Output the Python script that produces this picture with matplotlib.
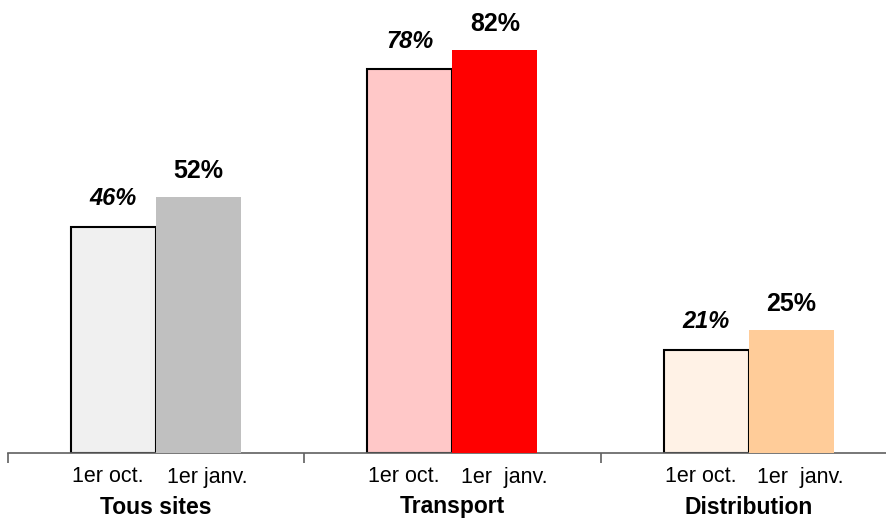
import matplotlib.pyplot as plt
import matplotlib.transforms as mtransforms

plt.rcParams['font.family'] = ['Liberation Sans', 'DejaVu Sans']

categories = ["Tous sites", "Transport", "Distribution"]
oct_values = [46, 78, 21]
jan_values = [52, 82, 25]
oct_labels = ["1er oct.", "1er oct.", "1er oct."]
jan_labels = ["1er janv.", "1er  janv.", "1er  janv."]
oct_colors = ["#F0F0F0", "#FFC8C8", "#FFF2E6"]
jan_colors = ["#C0C0C0", "#FF0000", "#FFCC99"]

fig = plt.figure(figsize=(8.87, 5.19), dpi=100)
ax = fig.add_axes([7.75 / 887, 66 / 519, 889.5 / 887, 442.8 / 519])

w = 85 / 296.5
x = list(range(len(categories)))
x_oct = [i - w / 2 for i in x]
x_jan = [i + w / 2 for i in x]

ax.bar(x_oct, oct_values, width=w, color=oct_colors, edgecolor="black", linewidth=1.5, zorder=2)
ax.bar(x_jan, jan_values, width=w, color=jan_colors, edgecolor="none", zorder=3)

for xi, v in zip(x_oct, oct_values):
    ax.annotate(f"{v}%", (xi, v), xytext=(0, 12), textcoords="offset points",
                ha="center", va="bottom", fontsize=17, fontweight="bold", fontstyle="italic")
for xi, v in zip(x_jan, jan_values):
    ax.annotate(f"{v}%", (xi, v), xytext=(0, 10), textcoords="offset points",
                ha="center", va="bottom", fontsize=18, fontweight="bold")

ax.set_xlim(-0.5, 2.5)
ax.set_ylim(0, 90)

# axe du bas seulement
for s in ["top", "left", "right"]:
    ax.spines[s].set_visible(False)
ax.spines["bottom"].set_color("#606060")
ax.spines["bottom"].set_linewidth(1.2)
ax.set_yticks([])
ax.set_xticks([-0.5, 0.5, 1.5, 2.5])
ax.set_xticklabels([])
ax.tick_params(axis="x", length=7, width=1.2, color="#606060", direction="out")

trans = mtransforms.blended_transform_factory(ax.transData, fig.transFigure)
for i in x:
    ax.text(x_oct[i] - 0.02, 1 - 477 / 519, oct_labels[i], transform=trans,
            ha="center", va="center", fontsize=15.5)
    ax.text(x_jan[i] + 0.03, 1 - 477 / 519, jan_labels[i], transform=trans,
            ha="center", va="center", fontsize=15.5)
    ax.text(i, 1 - 507 / 519, categories[i], transform=trans,
            ha="center", va="center", fontsize=16.5, fontweight="bold")

fig.savefig("out.png", dpi=100)
